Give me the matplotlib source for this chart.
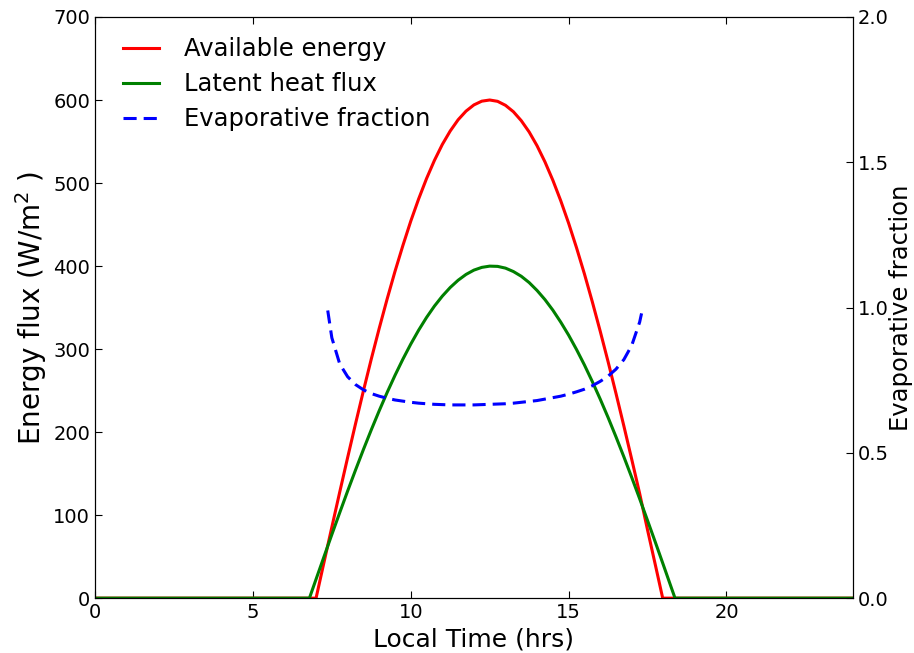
import matplotlib
matplotlib.use("Agg")
import matplotlib.pyplot as plt

# Data
# Available energy (W/m2), red
TimeA = [0, 7.0, 7.25, 7.5, 7.75, 8.0, 8.25, 8.5, 8.75, 9.0, 9.25, 9.5, 9.75,
         10.0, 10.25, 10.5, 10.75, 11.0, 11.25, 11.5, 11.75, 12.0, 12.25, 12.5,
         12.75, 13.0, 13.25, 13.5, 13.75, 14.0, 14.25, 14.5, 14.75, 15.0, 15.25,
         15.5, 15.75, 16.0, 16.25, 16.5, 16.75, 17.0, 17.25, 17.5, 17.75, 17.98, 24]
Available = [0, 0, 42.9, 85.5, 127.8, 169.3, 210.0, 249.7, 288.1, 324.9, 360.1, 393.5, 424.7,
             454.1, 480.9, 505.4, 527.3, 546.5, 562.7, 576.2, 586.6, 594.1, 598.6, 600.0,
             598.4, 593.6, 585.9, 575.1, 561.5, 544.9, 525.5, 503.4, 478.7, 451.6, 422.1,
             390.6, 357.0, 321.6, 284.8, 246.6, 207.3, 167.0, 126.0, 82.1, 39.5, 0, 0]

# Latent heat flux (W/m2), green
TimeLE = [0, 6.79, 7.0, 7.25, 7.5, 7.75, 8.0, 8.25, 8.5, 8.75, 9.0, 9.25, 9.5,
          9.75, 10.0, 10.25, 10.5, 10.75, 11.0, 11.25, 11.5, 11.75, 12.0, 12.25,
          12.5, 12.75, 13.0, 13.25, 13.5, 13.75, 14.0, 14.25, 14.5, 14.75, 15.0,
          15.25, 15.5, 15.75, 16.0, 16.25, 16.5, 16.75, 17.0, 17.25, 17.5, 17.75,
          18.0, 18.25, 18.37, 24]
Latent = [0, 0, 22.8, 49.8, 76.6, 103.0, 129.0, 154.3, 179.0, 202.8, 225.7, 247.6, 268.3,
          287.8, 306.0, 322.8, 338.1, 351.8, 363.8, 374.2, 382.9, 389.9, 395.1, 398.4,
          399.9, 399.6, 397.5, 393.4, 387.7, 380.1, 370.6, 359.6, 346.9, 332.5, 316.8,
          299.5, 280.9, 260.9, 239.8, 217.6, 194.3, 170.2, 145.3, 119.7, 93.5, 67.0,
          40.1, 13.0, 0, 0]

# Evaporative fraction, blue dashed (right axis)
TimeEF = [7.37, 7.5, 7.75, 8.0, 8.25, 8.5, 8.75, 9.0, 9.25, 9.5, 9.75, 10.0,
          10.25, 10.5, 10.75, 11.0, 11.25, 11.5, 11.75, 12.0, 12.25, 12.5, 12.75,
          13.0, 13.25, 13.5, 13.75, 14.0, 14.25, 14.5, 14.75, 15.0, 15.25, 15.5,
          15.75, 16.0, 16.25, 16.5, 16.75, 17.0, 17.25, 17.31]
EvapFrac = [0.99, 0.896, 0.806, 0.762, 0.735, 0.717, 0.704, 0.695, 0.688, 0.682, 0.678, 0.674,
            0.671, 0.669, 0.667, 0.666, 0.665, 0.665, 0.665, 0.665, 0.666, 0.667, 0.668,
            0.669, 0.671, 0.674, 0.677, 0.680, 0.685, 0.690, 0.695, 0.702, 0.710, 0.719,
            0.731, 0.746, 0.764, 0.788, 0.821, 0.870, 0.950, 0.98]

plt.rcParams['xtick.direction'] = 'in'
plt.rcParams['ytick.direction'] = 'in'
plt.rcParams['xtick.top'] = True
plt.rcParams['xtick.major.size'] = 5
plt.rcParams['ytick.major.size'] = 5

fig = plt.figure(figsize=(9.14, 6.53), dpi=100)
ax = fig.add_axes([0.104, 0.084, 0.829, 0.890])
ax2 = ax.twinx()

l1, = ax.plot(TimeA, Available, color='red', lw=2.2, solid_joinstyle='round',
              label='Available energy')
l2, = ax.plot(TimeLE, Latent, color='green', lw=2.2, solid_joinstyle='round',
              label='Latent heat flux')
l3, = ax2.plot(TimeEF, EvapFrac, color='blue', lw=2.2, linestyle=(0, (4.3, 2.3)),
               label='Evaporative fraction')

ax.set_xlim(0, 24)
ax.set_ylim(0, 700)
ax2.set_ylim(0, 2.0)
ax.set_xticks([0, 5, 10, 15, 20])
ax.set_yticks(range(0, 701, 100))
ax2.set_yticks([0.0, 0.5, 1.0, 1.5, 2.0])
ax.tick_params(labelsize=14)
ax2.tick_params(labelsize=14)

ax.set_xlabel('Local Time (hrs)', fontsize=18)
ax.set_ylabel('Energy flux (W/m$^2$ )', fontsize=20)
ax2.set_ylabel('Evaporative fraction', fontsize=17.5)
ax.yaxis.set_label_coords(-0.061, 0.5)
ax2.yaxis.set_label_coords(1.0475, 0.5)

ax.legend(handles=[l1, l2, l3], loc='upper left', bbox_to_anchor=(0, 1.013),
          frameon=False, fontsize=17.5, handlelength=1.5, handletextpad=1.0,
          labelspacing=0.45, borderaxespad=0.75)

fig.savefig('out.png', dpi=100, facecolor='white')
